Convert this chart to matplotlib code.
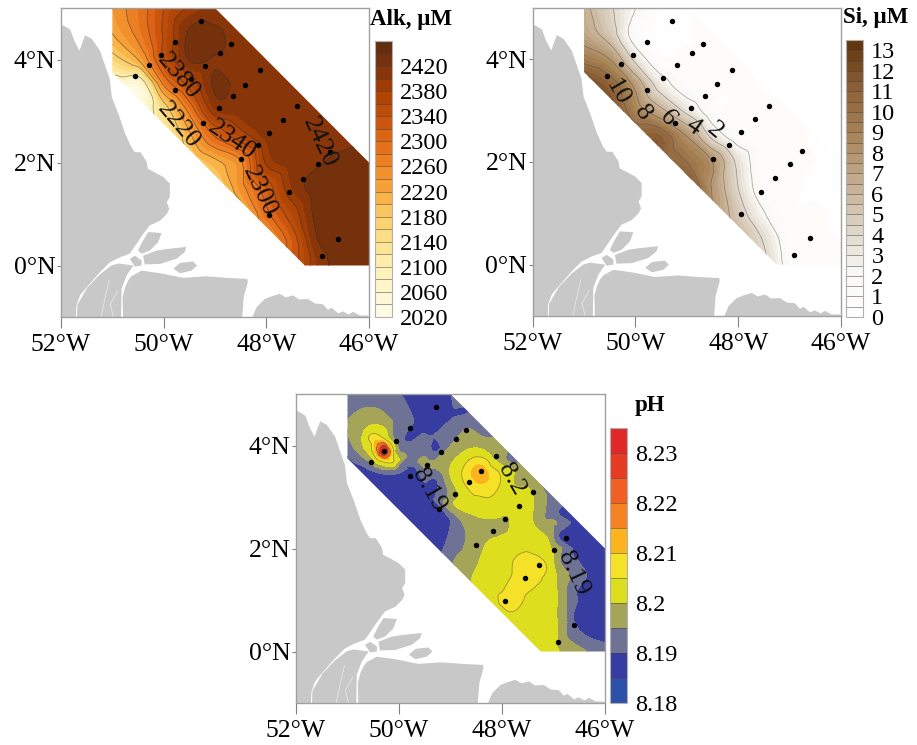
import numpy as np
import matplotlib
matplotlib.use('Agg')
import matplotlib.pyplot as plt
from matplotlib.colors import LinearSegmentedColormap, ListedColormap
from matplotlib.patches import Polygon
from matplotlib.tri import Triangulation, UniformTriRefiner, CubicTriInterpolator

plt.rcParams['font.family'] = ['Liberation Serif', 'DejaVu Serif']

# stations
st_lon = [-49.28, -49.78, -48.69, -48.90, -50.05, -50.29, -49.19, -48.12, -50.55,
          -49.46, -48.41, -49.78, -48.65, -48.92, -47.40, -47.67, -49.23, -47.95,
          -48.17, -46.76, -46.99, -48.50, -47.28, -47.56, -47.95, -46.60, -46.91]
st_lat = [4.74, 4.34, 4.30, 4.12, 4.09, 3.90, 3.88, 3.79, 3.67,
          3.63, 3.51, 3.41, 3.29, 3.05, 3.09, 2.83, 2.76, 2.58,
          2.34, 2.21, 1.97, 2.06, 1.68, 1.42, 0.99, 0.51, 0.18]

# survey area
area_lon = [-51, -49, -46, -46, -47.25, -51]
area_lat = [5, 5, 2, 0, 0, 3.75]

# land
land_main = [(-52, 4.66), (-51.95, 4.66), (-51.82, 4.58), (-51.73, 4.34), (-51.64, 4.17), (-51.58, 4.34),
             (-51.53, 4.47), (-51.40, 4.40), (-51.24, 4.17), (-51.14, 3.88), (-51.05, 3.62), (-51.01, 3.27),
             (-50.88, 2.94), (-50.75, 2.56), (-50.63, 2.30), (-50.56, 2.20), (-50.45, 2.20), (-50.33, 2.01),
             (-50.31, 1.88), (-50.01, 1.72), (-49.88, 1.59), (-49.88, 1.33), (-49.94, 1.23), (-49.89, 1.10),
             (-49.94, 1.00), (-50.07, 0.87), (-50.27, 0.78), (-50.40, 0.61), (-50.53, 0.42), (-50.66, 0.23),
             (-50.85, 0.16), (-51.05, 0.06), (-51.24, -0.13), (-51.47, -0.39), (-51.63, -0.58), (-51.70, -0.78),
             (-51.71, -1), (-52, -1)]
land_south = [(-50.63, -0.21), (-50.43, -0.10), (-50.07, -0.15), (-49.62, -0.24), (-49.17, -0.21), (-48.78, -0.24),
              (-48.37, -0.26), (-48.36, -0.32), (-48.44, -0.61), (-48.47, -1), (-50.79, -1), (-50.80, -0.61),
              (-50.75, -0.42), (-50.69, -0.29)]
land_mid = [(-51.02, 0.0), (-50.88, 0.04), (-50.59, 0.0), (-50.72, -0.19), (-50.82, -0.45), (-50.83, -1),
            (-51.69, -1), (-51.68, -0.76), (-51.48, -0.42), (-51.24, -0.17)]
land_east = [(-48.27, -1), (-48.19, -0.81), (-48.03, -0.65), (-47.90, -0.60), (-47.74, -0.55), (-47.62, -0.62),
             (-47.48, -0.58), (-47.36, -0.66), (-47.19, -0.65), (-47.05, -0.74), (-46.90, -0.75), (-46.80, -0.86),
             (-46.73, -0.82), (-46.60, -0.93), (-46.51, -0.89), (-46.40, -0.95), (-46.31, -0.90), (-46.18, -0.97),
             (-46.02, -0.97), (-46, -1)]
island_1 = [(-50.40, 0.19), (-50.14, 0.29), (-49.94, 0.32), (-49.56, 0.36), (-49.59, 0.26), (-49.75, 0.13),
            (-50.07, 0.03), (-50.37, 0.02)]
island_2 = [(-49.81, -0.06), (-49.68, 0.05), (-49.43, 0.08), (-49.35, 0), (-49.46, -0.10), (-49.68, -0.15)]
island_3 = [(-50.66, 0.13), (-50.56, 0.19), (-50.43, 0.10), (-50.43, 0), (-50.56, -0.02)]
island_4 = [(-50.30, 0.65), (-50.04, 0.63), (-50.11, 0.45), (-50.27, 0.29), (-50.43, 0.23), (-50.50, 0.29),
            (-50.40, 0.49)]
land_parts = [land_main, land_south, land_mid, land_east, island_1, island_2, island_3, island_4]
channel_1 = [(-51.22, -1), (-51.14, -0.62), (-51.06, -0.28)]
channel_2 = [(-50.98, -1), (-51.04, -0.75), (-50.90, -0.50)]

# fields on a 0.5 degree grid
grid_lon = [-51, -50.5, -50, -49.5, -49, -48.5, -48, -47.5, -47, -46.5, -46]
grid_lat = [5, 4.5, 4, 3.5, 3, 2.5, 2, 1.5, 1, 0.5, 0]

alk_values = [
    [2240, 2280, 2340, 2385, 2405, 2410, 2410, 2410, 2410, 2410, 2410],
    [2220, 2270, 2345, 2425, 2425, 2410, 2410, 2410, 2410, 2410, 2410],
    [2160, 2220, 2340, 2422, 2418, 2410, 2410, 2410, 2410, 2410, 2410],
    [2060, 2040, 2260, 2350, 2425, 2412, 2410, 2410, 2410, 2410, 2410],
    [2040, 2040, 2150, 2270, 2395, 2410, 2410, 2410, 2410, 2410, 2410],
    [2060, 2060, 2100, 2210, 2300, 2360, 2405, 2410, 2412, 2415, 2420],
    [2100, 2100, 2120, 2170, 2210, 2255, 2385, 2410, 2418, 2425, 2428],
    [2100, 2100, 2120, 2150, 2170, 2245, 2320, 2400, 2432, 2435, 2435],
    [2100, 2100, 2120, 2140, 2150, 2200, 2290, 2360, 2430, 2435, 2435],
    [2100, 2100, 2120, 2140, 2160, 2200, 2240, 2320, 2420, 2435, 2435],
    [2100, 2100, 2120, 2140, 2180, 2220, 2250, 2320, 2400, 2435, 2435],
]

si_values = [
    [6.5, 4.3, 2.0, 0.5, 0.5, 0.2, 0.2, 0.2, 0.2, 0.2, 0.2],
    [7.0, 5.0, 1.0, 0.2, 0.4, 0.7, 0.3, 0.2, 0.2, 0.2, 0.2],
    [9.5, 8.0, 3.5, 0.7, 0.7, 0.7, 0.7, 0.3, 0.2, 0.2, 0.2],
    [12.5, 11.0, 7.5, 3.0, 1.0, 0.7, 0.7, 0.4, 0.2, 0.2, 0.2],
    [13.0, 12.0, 9.0, 6.5, 3.5, 0.9, 0.7, 0.7, 0.7, 0.3, 0.2],
    [13.0, 12.5, 11.0, 11.0, 8.0, 3.5, 1.0, 0.7, 0.7, 0.4, 0.2],
    [13.0, 13.0, 12.0, 11.0, 10.0, 8.0, 3.5, 0.7, 0.7, 0.5, 0.2],
    [13.0, 13.0, 12.0, 12.0, 12.0, 7.8, 4.0, 0.9, 0.7, 0.3, 0.2],
    [13.0, 13.0, 12.0, 12.0, 12.0, 8.0, 5.0, 2.1, 0.7, 0.7, 0.2],
    [13.0, 13.0, 12.0, 12.0, 12.0, 8.0, 6.0, 3.8, 1.0, 0.7, 0.5],
    [13.0, 13.0, 12.0, 12.0, 12.0, 8.0, 6.0, 4.5, 1.3, 0.7, 0.7],
]

ph_values = [
    [8.192, 8.192, 8.190, 8.187, 8.189, 8.192, 8.192, 8.192, 8.192, 8.192, 8.192],
    [8.195, 8.198, 8.194, 8.188, 8.190, 8.192, 8.190, 8.190, 8.190, 8.190, 8.190],
    [8.193, 8.207, 8.194, 8.192, 8.195, 8.199, 8.197, 8.192, 8.190, 8.188, 8.188],
    [8.186, 8.190, 8.191, 8.1935, 8.2005, 8.212, 8.2035, 8.197, 8.193, 8.188, 8.186],
    [8.186, 8.186, 8.186, 8.187, 8.1965, 8.2045, 8.2025, 8.2015, 8.194, 8.190, 8.186],
    [8.185, 8.185, 8.185, 8.186, 8.190, 8.1985, 8.1995, 8.2025, 8.196, 8.188, 8.186],
    [8.185, 8.185, 8.185, 8.185, 8.192, 8.198, 8.2015, 8.2045, 8.199, 8.188, 8.186],
    [8.185, 8.185, 8.188, 8.190, 8.192, 8.2005, 8.2025, 8.208, 8.2015, 8.192, 8.186],
    [8.190, 8.190, 8.190, 8.192, 8.195, 8.200, 8.2055, 8.204, 8.2015, 8.1895, 8.186],
    [8.190, 8.190, 8.190, 8.192, 8.195, 8.200, 8.202, 8.2025, 8.2015, 8.1892, 8.187],
    [8.190, 8.190, 8.190, 8.192, 8.195, 8.200, 8.200, 8.2015, 8.2012, 8.1965, 8.192],
]
# extra pH points where the field is too fine for the grid
ph_x_lon = [-50.30, -50.37, -50.23,
            -50.47, -50.14, -50.27, -50.43,
            -50.59, -50.47, -50.30, -50.11, -50.11, -50.30, -50.53,
            -50.72, -50.50, -50.24, -50.08, -50.08, -50.43, -50.69,
            -50.98, -50.95, -50.50, -50.14, -50.11, -49.86, -50.04, -50.50, -50.82,
            -49.27, -49.50, -49.30,
            -47.13, -47.49, -47.78, -47.84, -47.58, -47.74,
            -48.78, -48.55, -48.29, -48.04, -48.23, -48.55,
            -48.59, -48.26, -48.42, -48.42, -48.42,
            -49.00, -48.75, -48.42, -48.17, -47.78, -47.39, -47.10, -46.94, -46.94,
            -48.94, -48.55, -47.91, -47.87, -48.36, -48.59,
            -46.90, -46.90, -46.48, -46.55, -46.61,
            -47.13, -47.00, -46.87, -46.74, -46.74,
            -49.00, -49.14, -49.27, -49.72, -48.80, -48.94,
            -49.98, -49.33, -48.65, -48.98,
            -48.91, -48.68, -48.36, -47.90, -47.19, -47.70]
ph_x_lat = [3.90, 3.97, 3.83,
            4.07, 3.88, 3.72, 3.81,
            4.17, 4.23, 4.14, 3.81, 3.68, 3.68, 3.91,
            4.17, 4.41, 4.30, 3.88, 3.60, 3.65, 3.97,
            4.20, 4.43, 4.74, 4.49, 4.17, 3.78, 3.57, 3.62, 3.88,
            3.94, 3.62, 3.65,
            1.64, 1.93, 1.77, 0.77, 1.00, 1.26,
            3.49, 3.77, 3.72, 3.26, 3.00, 3.04,
            3.42, 3.42, 3.62, 3.26, 3.42,
            3.39, 3.88, 3.94, 3.75, 3.26, 2.49, 2.16, 1.39, 0.74,
            2.87, 2.65, 2.65, 2.36, 2.00, 1.39,
            2.68, 2.23, 1.71, 1.13, 0.61,
            3.04, 2.42, 1.77, 1.06, 0.61,
            2.55, 2.00, 3.33, 3.59, 2.55, 1.74,
            5.00, 4.20, 4.65, 5.00,
            4.10, 4.33, 4.17, 3.71, 3.13, 2.75]
ph_x_val = [8.236, 8.222, 8.222,
            8.210, 8.210, 8.210, 8.210,
            8.205, 8.205, 8.205, 8.205, 8.205, 8.205, 8.205,
            8.200, 8.200, 8.200, 8.200, 8.200, 8.200, 8.200,
            8.195, 8.195, 8.195, 8.195, 8.195, 8.195, 8.195, 8.195, 8.195,
            8.189, 8.196, 8.196,
            8.205, 8.205, 8.205, 8.205, 8.205, 8.207,
            8.205, 8.205, 8.205, 8.205, 8.205, 8.205,
            8.210, 8.210, 8.210, 8.210, 8.213,
            8.200, 8.200, 8.200, 8.200, 8.200, 8.200, 8.200, 8.200, 8.200,
            8.200, 8.200, 8.200, 8.200, 8.200, 8.200,
            8.190, 8.190, 8.190, 8.190, 8.190,
            8.195, 8.195, 8.195, 8.195, 8.195,
            8.190, 8.190, 8.190, 8.190, 8.195, 8.195,
            8.190, 8.190, 8.190, 8.190,
            8.195, 8.195, 8.195, 8.195, 8.195, 8.202]

alk_anchor = [2020, 2060, 2100, 2140, 2180, 2220, 2260, 2300, 2340, 2380, 2420, 2460]
alk_colors = ['#fffce8', '#fef7d2', '#fdf0b4', '#fce18c', '#facd69', '#f8aa3c', '#f08728', '#e16919',
              '#c3500a', '#aa4105', '#7d320a', '#5a2d0f']
si_colors = ['#ffffff', '#f8f7f3', '#dcd2c3', '#c3aa8c', '#a58255', '#8c5f37', '#5f320a']
ph_colors = ['#2d50aa', '#373ca0', '#6e7396', '#a5a55a', '#dcde1e', '#f5e128', '#fcb41e',
             '#f58223', '#f05f23', '#e63c23', '#e12828']


def to_rect(x0, y0, x1, y1):
    return [x0 / 917, 1 - y1 / 745, (x1 - x0) / 917, (y1 - y0) / 745]


def draw_panel(box, cbox, values, levels, lines, cmap, ticks, ticklabels, title, title_xy, labels,
               extra=None, line_color='#303030', floor=None):
    ax = fig.add_axes(to_rect(*box))
    for part in land_parts:
        ax.add_patch(Polygon(part, closed=True, fc='#c8c8c8', ec='none'))
    for ch in (channel_1, channel_2):
        ax.plot(*zip(*ch), color='#ececec', lw=0.5)

    xx, yy = np.meshgrid(grid_lon, grid_lat)
    x, y, z = xx.ravel(), yy.ravel(), np.array(values, dtype=float).ravel()
    if extra is not None:
        x = np.append(x, extra[0])
        y = np.append(y, extra[1])
        z = np.append(z, extra[2])
    tri = Triangulation(x, y)
    interp = CubicTriInterpolator(tri, z, kind='geom')
    tri_f, z_f = UniformTriRefiner(tri).refine_field(z, triinterpolator=interp, subdiv=3)
    low = levels[0] + 1e-6 if floor is None else floor
    z_f = np.clip(z_f, low, levels[-1] - 1e-6)

    clip = Polygon(np.column_stack([area_lon, area_lat]), closed=True, transform=ax.transData, fc='none', ec='none')
    ax.add_patch(clip)
    cf = ax.tricontourf(tri_f, z_f, levels=levels, cmap=cmap)
    cf.set_clip_path(clip)
    cl = ax.tricontour(tri_f, z_f, levels=lines, colors=line_color, linewidths=0.5, alpha=0.55)
    cl.set_clip_path(clip)

    ax.plot(st_lon, st_lat, 'o', color='black', ms=3.9, mew=0)

    for txt, lon, lat, rot in labels:
        ax.text(lon, lat, txt, rotation=rot, rotation_mode='anchor', ha='center', va='center',
                fontsize=19, color='#101010')

    ax.set_xlim(-52, -46)
    ax.set_ylim(-1, 5)
    ax.set_xticks([-52, -50, -48, -46])
    ax.set_xticklabels(['52°W', '50°W', '48°W', '46°W'], fontsize=18.5)
    ax.set_yticks([0, 2, 4])
    ax.set_yticklabels(['0°N', '2°N', '4°N'], fontsize=18.5)
    ax.tick_params(axis='x', length=8, width=0.8, color='#808080', pad=4)
    ax.tick_params(axis='y', length=3, width=0.8, color='#808080', pad=1)
    for s in ax.spines.values():
        s.set_color('#a0a0a0')
        s.set_linewidth(1)

    cax = fig.add_axes(to_rect(*cbox))
    cb = fig.colorbar(cf, cax=cax, drawedges=True)
    cb.set_ticks(ticks)
    cb.set_ticklabels(ticklabels, fontsize=17.5)
    cb.ax.tick_params(length=0, pad=6)
    cb.ax.minorticks_off()
    cb.dividers.set_color('#404040')
    cb.dividers.set_linewidth(0.5)
    cb.dividers.set_alpha(0.7)
    cb.outline.set_edgecolor('#b0b0b0')
    cb.outline.set_linewidth(0.8)

    fig.text(title_xy[0] / 917, 1 - title_xy[1] / 745, title, fontsize=16.5, fontweight='bold', ha='left', va='center')


fig = plt.figure(figsize=(9.17, 7.45), dpi=100)

alk_levels = np.arange(2020, 2461, 20)
alk_pos = [(v - 2020) / 440 for v in alk_anchor]
alk_cmap = LinearSegmentedColormap.from_list('alk', list(zip(alk_pos, alk_colors)))
draw_panel((61, 8, 369, 317), (375, 41, 392, 317), alk_values, alk_levels,
           [2100, 2180, 2220, 2260, 2300, 2340, 2380, 2420], alk_cmap,
           [2020 + 40 * i for i in range(11)], [str(2020 + 40 * i) for i in range(11)],
           'Alk, µM', (370, 20),
           [('2380', -49.72, 3.67, -50), ('2220', -49.72, 2.72, -50), ('2340', -48.68, 2.43, -35),
            ('2300', -48.13, 1.44, -65), ('2420', -46.96, 2.39, -65)])

si_levels = np.arange(0, 13.6, 0.5)
si_cmap = LinearSegmentedColormap.from_list('si', si_colors)
draw_panel((532.7, 8, 841, 316), (846, 40, 863, 317), si_values, si_levels, np.arange(2, 13, 2), si_cmap,
           list(range(14)), [str(i) for i in range(14)],
           'Si, µM', (843, 18),
           [('10', -50.35, 3.35, -60), ('8', -49.85, 2.96, -55), ('6', -49.38, 2.85, -50),
            ('4', -48.88, 2.68, -35), ('2', -48.46, 2.61, -40)], line_color='#505050')

ph_levels = np.linspace(8.18, 8.235, 12)
ph_cmap = ListedColormap(ph_colors)
draw_panel((296, 394, 605, 703), (610, 428, 627, 703), ph_values, ph_levels, [8.205, 8.215, 8.225], ph_cmap,
           [8.18, 8.19, 8.20, 8.21, 8.22, 8.23], ['8.18', '8.19', '8.2', '8.21', '8.22', '8.23'],
           'pH', (635, 405),
           [('8.19', -49.43, 3.13, -60), ('8.2', -47.81, 3.34, -60), ('8.19', -46.62, 1.51, -65)],
           extra=(ph_x_lon, ph_x_lat, ph_x_val), floor=8.1855)

fig.savefig('out.png', dpi=100)
